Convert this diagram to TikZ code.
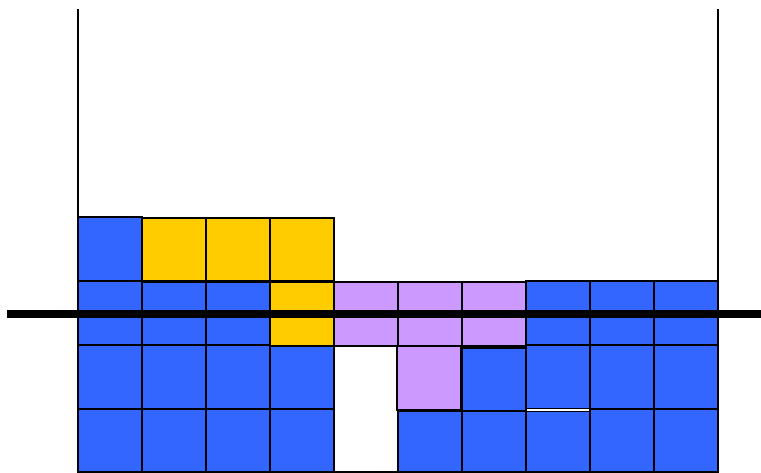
\documentclass[tikz,border=0pt]{standalone}
\definecolor{cblue}{HTML}{3366FF}
\definecolor{cyellow}{HTML}{FFCC00}
\definecolor{cpurple}{HTML}{CC99FF}
\tikzset{
  cell/.style={draw=black, line width=1.1pt},
  bluecell/.style={cell, fill=cblue},
  yellowcell/.style={cell, fill=cyellow},
  purplecell/.style={cell, fill=cpurple},
  wall/.style={draw=black, line width=1.5pt},
  cutline/.style={draw=black, line width=5.6pt}
}
\begin{document}
\begin{tikzpicture}[x=0.75pt,y=-0.75pt]
\useasboundingbox (0,0) rectangle (761,473);
% blue cells
\foreach \a/\b/\c/\d in {78/217/142/281,
  78/281/142/345, 142/282/206/345, 206/282/270/345,
  78/345/142/409, 142/345/206/409, 206/345/270/409, 270/346/334/409,
  78/409/142/473, 142/409/206/473, 206/409/270/473, 270/409/334/473,
  398/411/462/473, 462/411/526/473, 462/348/526/411,
  526/281/590/345, 590/281/654/345, 654/281/718/345,
  526/345/590/408.5, 590/345/654/409, 654/345/718/409,
  526/411.5/590/473, 590/409/654/473, 654/409/718/473}
  \path[bluecell] (\a,\b) rectangle (\c,\d);
% yellow cells
\foreach \a/\b/\c/\d in {142/218/206/281, 206/218/270/281, 270/218/334/281, 270/282/334/346}
  \path[yellowcell] (\a,\b) rectangle (\c,\d);
% purple cells
\foreach \a/\b/\c/\d in {334/282/398/346, 398/282/462/346, 462/282/526/346, 397/346/461/410}
  \path[purplecell] (\a,\b) rectangle (\c,\d);
% walls and floor
\coordinate (lt) at (78,9);
\coordinate (lb) at (78,473);
\coordinate (rt) at (718,9);
\coordinate (rb) at (718,473);
\coordinate (fl) at (78,472);
\coordinate (fr) at (718,472);
\draw[wall] (lt) -- (lb);
\draw[wall] (rt) -- (rb);
\draw[wall] (fl) -- (fr);
% cut line
\coordinate (cl) at (7,314);
\coordinate (cr) at (761,314);
\draw[cutline] (cl) -- (cr);
\end{tikzpicture}
\end{document}
